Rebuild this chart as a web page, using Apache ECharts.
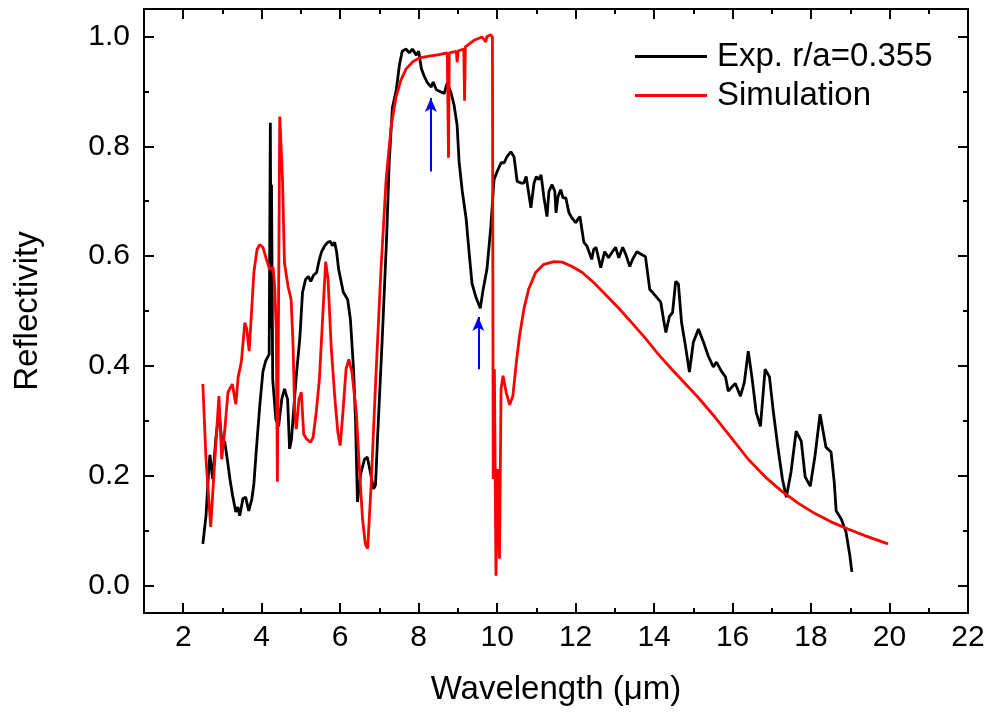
<!DOCTYPE html>
<html>
<head>
<meta charset="utf-8">
<title>Reflectivity</title>
<script src="https://cdn.jsdelivr.net/npm/echarts@6/dist/echarts.min.js"></script>
<style>
html, body { margin: 0; padding: 0; background: #fff; }
#chart { width: 990px; height: 720px; }
</style>
</head>
<body>
<div id="chart"></div>
<script>
// measured spectrum, r/a = 0.355
const expWavelength = [2.50,2.58,2.65,2.68,2.75,2.83,2.91,2.98,3.06,3.14,
	3.19,3.26,3.34,3.39,3.44,3.52,3.59,3.67,3.75,3.80,
	3.87,3.95,4.03,4.10,4.15,4.19,4.22,4.24,4.25,4.28,
	4.36,4.43,4.51,4.58,4.66,4.71,4.76,4.81,4.89,4.97,
	5.04,5.12,5.19,5.25,5.32,5.40,5.45,5.52,5.60,5.68,
	5.75,5.80,5.86,5.91,5.96,6.01,6.08,6.19,6.26,6.34,
	6.39,6.44,6.52,6.62,6.69,6.77,6.85,6.90,6.95,7.07,
	7.18,7.25,7.33,7.43,7.51,7.58,7.68,7.76,7.84,7.94,
	8.00,8.07,8.14,8.22,8.32,8.37,8.45,8.57,8.65,8.73,
	8.83,8.90,8.98,9.03,9.11,9.21,9.29,9.36,9.46,9.57,
	9.64,9.74,9.84,9.92,10.00,10.10,10.18,10.25,10.35,10.43,
	10.51,10.61,10.68,10.74,10.86,10.94,11.00,11.06,11.12,11.19,
	11.27,11.32,11.40,11.47,11.50,11.55,11.62,11.68,11.75,11.83,
	11.90,12.00,12.11,12.21,12.29,12.41,12.46,12.52,12.64,12.74,
	12.84,12.92,13.02,13.10,13.20,13.28,13.38,13.45,13.56,13.68,
	13.78,13.89,13.96,14.17,14.24,14.30,14.39,14.47,14.55,14.62,
	14.70,14.80,14.90,15.00,15.13,15.26,15.38,15.51,15.59,15.71,
	15.82,15.89,16.00,16.07,16.20,16.30,16.40,16.50,16.60,16.71,
	16.83,16.94,17.04,17.16,17.27,17.37,17.49,17.62,17.75,17.85,
	17.98,18.10,18.23,18.38,18.51,18.59,18.64,18.77,18.89,18.99,
	19.04]
const expReflectivity = [0.076,0.127,0.212,0.238,0.194,0.267,0.316,0.267,0.261,0.221,
	0.194,0.163,0.134,0.143,0.127,0.158,0.161,0.136,0.158,0.185,
	0.254,0.327,0.389,0.409,0.412,0.421,0.843,0.467,0.730,0.376,
	0.303,0.290,0.339,0.358,0.339,0.249,0.267,0.316,0.389,0.449,
	0.534,0.558,0.563,0.554,0.565,0.570,0.588,0.607,0.618,0.625,
	0.627,0.619,0.625,0.607,0.576,0.579,0.534,0.521,0.485,0.394,
	0.303,0.152,0.203,0.230,0.234,0.206,0.176,0.183,0.265,0.447,
	0.628,0.772,0.870,0.903,0.948,0.973,0.977,0.970,0.977,0.966,
	0.973,0.941,0.928,0.916,0.908,0.917,0.903,0.899,0.896,0.916,
	0.896,0.876,0.838,0.772,0.719,0.668,0.603,0.550,0.525,0.505,
	0.538,0.576,0.654,0.739,0.754,0.770,0.770,0.781,0.790,0.781,
	0.736,0.733,0.733,0.745,0.688,0.733,0.745,0.739,0.748,0.708,
	0.672,0.718,0.730,0.718,0.679,0.708,0.721,0.706,0.706,0.679,
	0.670,0.661,0.672,0.625,0.618,0.594,0.612,0.616,0.579,0.608,
	0.597,0.606,0.616,0.597,0.616,0.603,0.581,0.594,0.608,0.603,
	0.599,0.539,0.534,0.516,0.485,0.461,0.490,0.497,0.554,0.549,
	0.479,0.436,0.389,0.443,0.467,0.443,0.418,0.398,0.407,0.391,
	0.380,0.354,0.363,0.368,0.345,0.370,0.427,0.376,0.316,0.290,
	0.394,0.380,0.316,0.249,0.194,0.161,0.207,0.281,0.263,0.198,
	0.181,0.236,0.312,0.252,0.243,0.189,0.136,0.121,0.098,0.054,
	0.025]

// simulated spectrum
const simWavelength = [2.50,2.58,2.70,2.79,2.91,2.98,3.06,3.14,3.25,3.34,
	3.40,3.48,3.57,3.62,3.68,3.74,3.80,3.88,3.95,4.03,
	4.12,4.20,4.29,4.33,4.37,4.40,4.43,4.46,4.53,4.58,
	4.67,4.75,4.80,4.84,4.88,4.95,5.01,5.07,5.14,5.24,
	5.31,5.39,5.47,5.56,5.63,5.69,5.77,5.86,5.94,6.00,
	6.07,6.15,6.22,6.30,6.41,6.49,6.57,6.64,6.70,6.79,
	6.91,7.04,7.17,7.30,7.42,7.55,7.68,7.85,8.02,8.27,
	8.52,8.73,8.76,8.78,8.96,8.98,9.01,9.15,9.17,9.19,
	9.41,9.62,9.71,9.74,9.84,9.88,9.90,9.93,9.97,10.02,
	10.06,10.10,10.15,10.23,10.32,10.40,10.49,10.57,10.68,10.80,
	10.98,11.19,11.45,11.66,11.91,12.17,12.46,12.76,13.10,13.44,
	13.78,14.11,14.45,14.79,15.13,15.56,15.98,16.40,16.83,17.25,
	17.67,18.10,18.51,18.94,19.37,19.96]
const simReflectivity = [0.367,0.230,0.107,0.212,0.345,0.230,0.285,0.352,0.367,0.330,
	0.380,0.407,0.479,0.467,0.427,0.497,0.570,0.612,0.621,0.616,
	0.594,0.576,0.579,0.545,0.467,0.189,0.521,0.854,0.739,0.588,
	0.545,0.521,0.436,0.316,0.285,0.339,0.352,0.276,0.267,0.261,
	0.270,0.316,0.376,0.497,0.590,0.558,0.436,0.345,0.279,0.255,
	0.316,0.394,0.412,0.388,0.316,0.212,0.121,0.076,0.067,0.185,
	0.381,0.576,0.739,0.837,0.889,0.921,0.941,0.954,0.961,0.964,
	0.967,0.970,0.779,0.970,0.973,0.953,0.974,0.977,0.883,0.981,
	0.993,0.999,0.990,1.000,1.003,0.999,0.194,0.394,0.018,0.212,
	0.049,0.358,0.382,0.352,0.329,0.345,0.407,0.454,0.503,0.539,
	0.570,0.585,0.590,0.589,0.581,0.570,0.552,0.530,0.505,0.478,
	0.450,0.421,0.394,0.368,0.342,0.306,0.268,0.230,0.198,0.172,
	0.150,0.131,0.116,0.103,0.091,0.076]

const xMajorTicks = [2, 4, 6, 8, 10, 12, 14, 16, 18, 20, 22]
const xMinorTicks = [3, 5, 7, 9, 11, 13, 15, 17, 19, 21]
const yMajorTicks = [0, 0.2, 0.4, 0.6, 0.8, 1.0]
const yMinorTicks = [0.1, 0.3, 0.5, 0.7, 0.9]

// blue arrows: [wavelength, tail, head]
const arrows = [
	[8.31, 0.754, 0.888],
	[9.52, 0.394, 0.489],
]

const font = "'Liberation Sans', Arial, sans-serif"
const axisColor = "#000"

function pairs(xs, ys) {
	return xs.map((x, i) => [x, ys[i]])
}

// one frame side; major sides carry labels, minor ones only short ticks
function frameAxis(position, range, ticks, tickLength, extra) {
	return Object.assign({
		type: "value",
		position: position,
		min: range[0],
		max: range[1],
		axisLine: { show: true, onZero: false, lineStyle: { color: axisColor, width: 2 } },
		axisTick: {
			show: true,
			inside: true,
			length: tickLength,
			customValues: ticks,
			lineStyle: { color: axisColor, width: 2 },
		},
		axisLabel: { show: false },
		splitLine: { show: false },
	}, extra || {})
}

const xRange = [1, 22]
const yRange = [-0.05, 1.05]

const option = {
	animation: false,
	backgroundColor: "#fff",
	grid: { left: 144, right: 22, top: 9, bottom: 107, containLabel: false },
	legend: {
		left: 630,
		top: 35,
		orient: "vertical",
		icon: "rect",
		itemWidth: 72,
		itemHeight: 3,
		itemGap: 6,
		textStyle: { fontSize: 33, color: "#000", fontFamily: font, padding: [0, 0, 0, 5] },
		data: ["Exp. r/a=0.355", "Simulation"],
	},
	xAxis: [
		frameAxis("bottom", xRange, xMajorTicks, 10, {
			name: "Wavelength (μm)",
			nameLocation: "middle",
			nameGap: 60,
			nameTextStyle: { fontSize: 33, color: "#000", fontFamily: font },
			axisLabel: {
				show: true,
				customValues: xMajorTicks,
				margin: 10,
				fontSize: 30,
				color: "#000",
				fontFamily: font,
			},
		}),
		frameAxis("bottom", xRange, xMinorTicks, 5),
		frameAxis("top", xRange, xMajorTicks, 10),
		frameAxis("top", xRange, xMinorTicks, 5),
	],
	yAxis: [
		frameAxis("left", yRange, yMajorTicks, 10, {
			name: "Reflectivity",
			nameLocation: "middle",
			nameGap: 100,
			nameTextStyle: { fontSize: 33, color: "#000", fontFamily: font },
			axisLabel: {
				show: true,
				customValues: yMajorTicks,
				margin: 14,
				fontSize: 30,
				color: "#000",
				fontFamily: font,
				formatter: (v) => v.toFixed(1),
			},
		}),
		frameAxis("left", yRange, yMinorTicks, 5),
		frameAxis("right", yRange, yMajorTicks, 10),
		frameAxis("right", yRange, yMinorTicks, 5),
	],
	series: [
		{
			name: "Exp. r/a=0.355",
			type: "line",
			xAxisIndex: 0,
			yAxisIndex: 0,
			showSymbol: false,
			color: "#000",
			lineStyle: { color: "#000", width: 2.8 },
			data: pairs(expWavelength, expReflectivity),
			z: 3,
			markLine: {
				silent: true,
				symbol: ["none", "arrow"],
				symbolSize: [9, 14],
				label: { show: false },
				lineStyle: { color: "#0000ff", width: 2, type: "solid" },
				data: arrows.map((a) => [{ coord: [a[0], a[1]] }, { coord: [a[0], a[2]] }]),
			},
		},
		{
			name: "Simulation",
			type: "line",
			xAxisIndex: 0,
			yAxisIndex: 0,
			showSymbol: false,
			color: "#ff0000",
			lineStyle: { color: "#ff0000", width: 2.8 },
			data: pairs(simWavelength, simReflectivity),
			z: 4,
		},
	],
}

const chart = echarts.init(document.getElementById("chart"))
chart.setOption(option)
</script>
</body>
</html>
